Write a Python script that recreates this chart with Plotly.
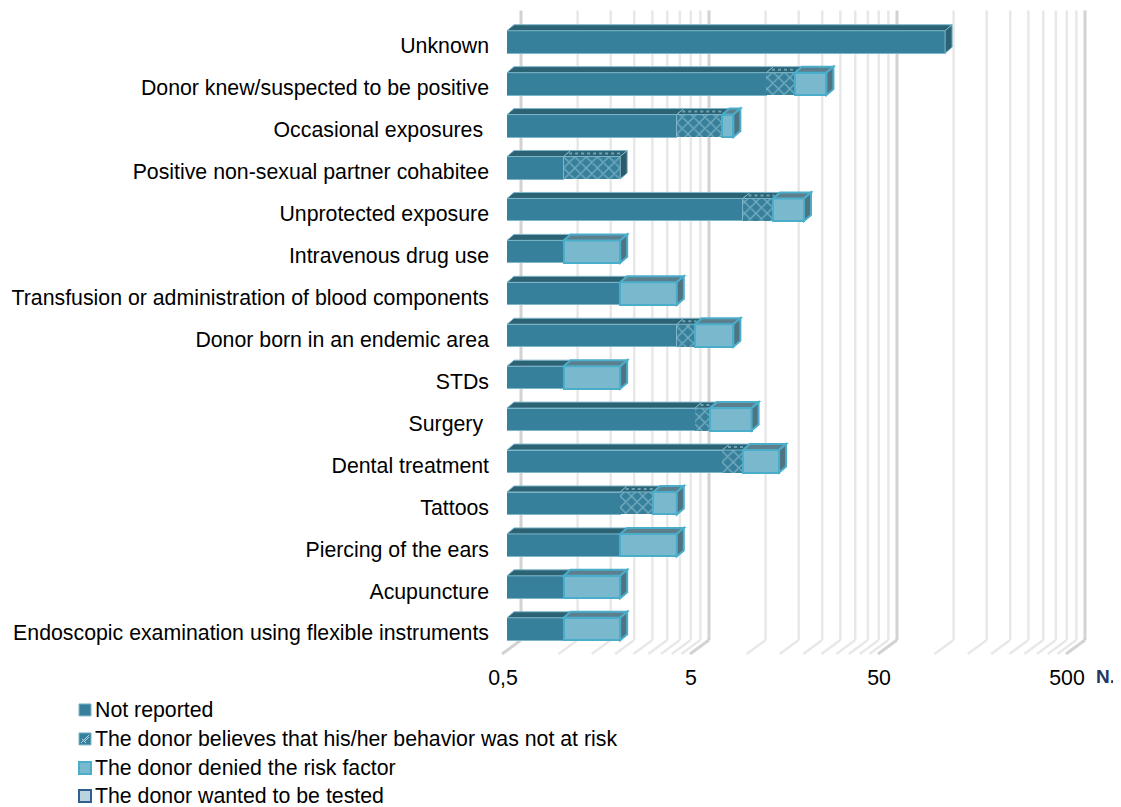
import math
import plotly.graph_objects as go

categories = ["Unknown", "Donor knew/suspected to be positive", "Occasional exposures ",
              "Positive non-sexual partner cohabitee", "Unprotected exposure", "Intravenous drug use",
              "Transfusion or administration of blood components", "Donor born in an endemic area",
              "STDs", "Surgery ", "Dental treatment", "Tattoos", "Piercing of the ears", "Acupuncture",
              "Endoscopic examination using flexible instruments"]
not_reported = [107, 12, 4, 1, 9, 1, 2, 4, 1, 5, 7, 2, 2, 1, 1]
believes_no_risk = [0, 5, 3, 1, 4, 0, 0, 1, 0, 1, 2, 1, 0, 0, 0]
denied = [0, 8, 1, 0, 6, 1, 2, 3, 1, 4, 5, 1, 2, 1, 1]
wanted_test = [None] * 15
series_names = ["Not reported", "The donor believes that his/her behavior was not at risk",
                "The donor denied the risk factor", "The donor wanted to be tested"]
tick_values = [0.5, 5, 50, 500]
tick_labels = ["0,5", "5", "50", "500"]
grid_values = [0.5, 1, 1.5, 2, 2.5, 3, 3.5, 4, 4.5, 5,
               10, 15, 20, 25, 30, 35, 40, 45, 50,
               100, 150, 200, 250, 300, 350, 400, 450, 500]

FONT = "Liberation Sans"
FS = 21.3
PAGE = 8  # the page body's own margin
W, H = 1121 - PAGE, 807 - PAGE
L, R, T, B = 507 - PAGE, 1071 - PAGE, 20.5 - PAGE, 650 - PAGE
PX_DECADE = (R - L) / 3.0
BAR_H = 22.5
DX, DY = 7, 6

C_NR, C_NR_TOP = "#37809B", "#2B6374"
C_NR_LINE = "#7DB6CA"
C_DEN, C_DEN_TOP, C_DEN_SIDE, C_DEN_LINE = "#7AB8CE", "#5C7F8E", "#4F7380", "#4AAECB"


def fx(px):
    return (px - PAGE - L) / (R - L)


def fy(px):
    return (B - (px - PAGE)) / (B - T)


def value_fraction(v):
    return (math.log10(v) - math.log10(0.5)) / 3.0


fig = go.Figure()
fig.add_bar(name=series_names[0], y=categories, x=not_reported, orientation="h",
            marker=dict(color=C_NR, line=dict(color=C_NR_LINE, width=1)))
fig.add_bar(name=series_names[1], y=categories,
            x=[v if v else None for v in believes_no_risk], orientation="h",
            marker=dict(color=C_NR, line=dict(color=C_NR_LINE, width=0),
                        pattern=dict(shape="x", fgcolor="#B5DCE8", bgcolor=C_NR, size=8, solidity=0.3)))
fig.add_bar(name=series_names[2], y=categories,
            x=[v if v else None for v in denied], orientation="h",
            marker=dict(color=C_DEN, line=dict(color=C_DEN_LINE, width=2)))
fig.add_bar(name=series_names[3], y=categories, x=wanted_test, orientation="h",
            marker=dict(color="#B9D4DF", line=dict(color="#2F5F8F", width=2)))

shapes = []


def px_path(points):
    return "M" + "L".join(f"{x},{y}" for x, y in points) + "Z"


# wall and floor gridlines: paper coordinates, so the depth offset is not clipped by the plot area
WALL_DX, FLOOR_DX = 14 / (R - L), -5 / (R - L)
for v in grid_values:
    major = v in tick_values
    color = "#D2D2D2" if major else "#E8E8E8"
    width = 3 if major else 2.5
    f = value_fraction(v)
    shapes.append(dict(type="line", xref="paper", yref="paper", layer="below",
                       x0=f + WALL_DX, x1=f + WALL_DX, y0=fy(640), y1=fy(10),
                       line=dict(color=color, width=width)))
    shapes.append(dict(type="line", xref="paper", yref="paper", layer="below",
                       x0=f + WALL_DX, x1=f + FLOOR_DX, y0=fy(640), y1=fy(654),
                       line=dict(color=color, width=width)))

# depth faces of the bars, anchored at each category
for i, cat in enumerate(categories):
    top = BAR_H / 2
    segments = [(not_reported[i], C_NR_TOP, C_NR_LINE, 1, "nr"),
                (believes_no_risk[i], C_NR_TOP, C_NR_LINE, 1, "pat"),
                (denied[i], C_DEN_TOP, C_DEN_LINE, 2, "den")]
    left = 0.5
    cum = 0
    last = None
    for val, col, lc, lw, kind in segments:
        if not val:
            continue
        x0 = left
        cum += val
        x1 = cum
        w = (math.log10(x1) - math.log10(x0)) * PX_DECADE
        shapes.append(dict(type="path", xref="x", yref="y", xsizemode="pixel", ysizemode="pixel",
                           xanchor=x0, yanchor=cat,
                           path=px_path([(0, top), (w, top), (w + DX, top + DY), (DX, top + DY)]),
                           fillcolor=col, line=dict(color=lc, width=lw)))
        if kind == "pat":
            shapes.append(dict(type="path", xref="x", yref="y", xsizemode="pixel", ysizemode="pixel",
                               xanchor=x0, yanchor=cat,
                               path=f"M{DX/2+2},{top+DY/2}L{w+DX/2-2},{top+DY/2}",
                               line=dict(color="#6FA3B5", width=2, dash="dot")))
        left = x1
        last = (x1, kind)
    x1, kind = last
    side = {"nr": C_NR_TOP, "pat": "#2B5A69", "den": C_DEN_SIDE}[kind]
    lc = {"nr": C_NR_LINE, "pat": C_NR_LINE, "den": C_DEN_LINE}[kind]
    shapes.append(dict(type="path", xref="x", yref="y", xsizemode="pixel", ysizemode="pixel",
                       xanchor=x1, yanchor=cat,
                       path=px_path([(0, top), (DX, top + DY), (DX, -top + DY), (0, -top)]),
                       fillcolor=side, line=dict(color=lc, width=1 if kind != "den" else 2)))

# key below the chart
legend_rows = [710, 739, 768, 796]
legend_styles = [(C_NR, C_NR_LINE, 1), (C_NR, C_NR_LINE, 1), (C_DEN, C_DEN_LINE, 2), ("#B9D4DF", "#2F5F8F", 2)]
annotations = []
for name, row, (fill, line, lw) in zip(series_names, legend_rows, legend_styles):
    shapes.append(dict(type="rect", xref="paper", yref="paper", x0=fx(79), x1=fx(91),
                       y0=fy(row - 6), y1=fy(row + 6), fillcolor=fill, line=dict(color=line, width=lw)))
    annotations.append(dict(text=name, xref="paper", yref="paper", x=fx(93), y=fy(row), xanchor="left",
                            yanchor="middle", showarrow=False, font=dict(size=FS)))
hatch_row = legend_rows[1]
for a, b in [((81, 4), (89, -4)), ((84, 3), (89, -2)), ((82, 0), (86, 4))]:
    shapes.append(dict(type="line", xref="paper", yref="paper", x0=fx(a[0]), y0=fy(hatch_row + a[1]),
                       x1=fx(b[0]), y1=fy(hatch_row + b[1]), line=dict(color="#B5DCE8", width=1)))
annotations.append(dict(text="<b>N.</b>", xref="paper", yref="paper", x=fx(1105), y=fy(677),
                        xanchor="center", yanchor="middle", showarrow=False,
                        font=dict(size=19, color="#1F3864")))

fig.update_layout(
    width=W, height=H, autosize=False, barmode="stack", bargap=0.464, showlegend=False,
    paper_bgcolor="white", plot_bgcolor="rgba(0,0,0,0)",
    margin=dict(l=L, r=W - R, t=T, b=H - B),
    font=dict(family=FONT, size=FS, color="#000000"),
    shapes=shapes,
    annotations=annotations,
    xaxis=dict(type="log", range=[math.log10(0.5), math.log10(500)], tickmode="array", automargin=False,
               tickvals=tick_values, ticktext=tick_labels, showgrid=False, zeroline=False,
               showline=False, ticks="", ticklabelstandoff=13, ticklabelshift=-4,
               tickfont=dict(size=FS)),
    yaxis=dict(type="category", categoryorder="array", categoryarray=categories, autorange="reversed",
               automargin=False, showgrid=False, zeroline=False, showline=False, ticks="",
               ticklabelstandoff=17, ticklabelshift=-4, tickfont=dict(size=FS)),
)

# the figure reaches the window's edges, so keep the page from growing scrollbars
post = """
document.documentElement.style.overflow = 'hidden';
document.body.style.overflow = 'hidden';
"""
fig.write_html("out.html", post_script=post)
